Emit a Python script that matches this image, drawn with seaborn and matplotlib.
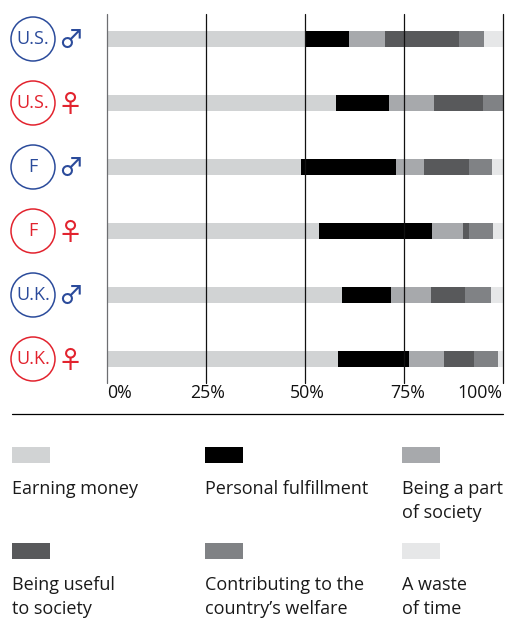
import matplotlib
matplotlib.use('Agg')
import matplotlib.pyplot as plt
from matplotlib.patches import Circle, Rectangle
import pandas as pd
import seaborn as sns

sns.set_theme(style="white")
plt.rcParams['font.family'] = ['Open Sans', 'DejaVu Sans']

groups = ['U.S. m', 'U.S. f', 'F m', 'F f', 'U.K. m', 'U.K. f']
group_labels = ['U.S.', 'U.S.', 'F', 'F', 'U.K.', 'U.K.']
group_signs = ['♂', '♀', '♂', '♀', '♂', '♀']

earning = [50.0, 57.8, 49.0, 53.5, 59.3, 58.3]
personal = [11.1, 13.4, 23.9, 28.5, 12.4, 17.9]
part = [9.1, 11.3, 7.1, 7.8, 10.1, 8.8]
useful = [18.6, 12.4, 11.3, 1.5, 8.5, 7.6]
welfare = [6.3, 5.1, 5.8, 6.1, 6.6, 6.1]
waste = [4.9, 0.0, 2.9, 2.6, 3.1, 1.3]

names = ['Earning money', 'Personal fulfillment', 'Being a part\nof society',
         'Being useful\nto society', 'Contributing to the\ncountry’s welfare', 'A waste\nof time']
colors = ['#d1d3d4', '#000000', '#a7a9ac', '#58595b', '#808285', '#e6e7e8']
ticks = [0, 25, 50, 75, 100]

df = pd.DataFrame({'group': groups, 'Earning': earning, 'Personal': personal, 'Part': part,
                   'Useful': useful, 'Welfare': welfare, 'Waste': waste})
cols = ['Earning', 'Personal', 'Part', 'Useful', 'Welfare', 'Waste']
cum = df[cols].cumsum(axis=1)

W, H = 517, 618
fig = plt.figure(figsize=(W / 100, H / 100), dpi=100)
ax = fig.add_axes([107 / W, 1 - 383 / H, (503.3 - 107) / W, (383 - 14) / H])

# stacked by drawing the longest bar first
for col, c in list(zip(cols, colors))[::-1]:
    sns.barplot(x=cum[col].values, y=df['group'], color=c, width=16 / 64, saturation=1,
                orient='h', ax=ax, linewidth=0, zorder=3)

ax.set_xlim(0, 100)
ax.set_ylim((383 - 39) / 64, -(39 - 14) / 64)
ax.set_xticks(ticks)
ax.set_xticklabels([])
ax.set_yticks([])
ax.set_xlabel('')
ax.set_ylabel('')
ax.tick_params(length=0)
for s in ax.spines.values():
    s.set_visible(False)
for t in ticks:
    ax.axvline(t, color='#6d6e71' if t == 0 else '#111111', lw=0.9, zorder=5, clip_on=False)

# overlay in pixel coordinates for labels and legend
ov = fig.add_axes([0, 0, 1, 1], facecolor='none')
ov.set_xlim(0, W)
ov.set_ylim(H, 0)
ov.axis('off')

label_x = [120, 208, 307, 408, 480]
for t, x in zip(ticks, label_x):
    ov.text(x, 393, f'{t}%', ha='center', va='center', fontsize=12.8, color='#111111')
ov.plot([12, 503], [414, 414], color='black', lw=0.9)

for i, (lab, sign) in enumerate(zip(group_labels, group_signs)):
    y = 39 + 64 * i
    c = '#2b4b9b' if sign == '♂' else '#e2232e'
    ov.add_patch(Circle((33, y), 22, fc='white', ec=c, lw=1.1))
    ov.text(33, y - 0.5, lab, ha='center', va='center', fontsize=13, color=c)
    ov.text(71 if sign == '♂' else 70, y + 2, sign, ha='center', va='center', fontsize=18,
            color=c, family='Noto Sans CJK JP', weight='medium')

col_x = [12, 205, 402]
for i, (name, c) in enumerate(zip(names, colors)):
    x = col_x[i % 3]
    top = 447 if i < 3 else 543
    ov.add_patch(Rectangle((x, top), 38, 16, fc=c, ec='none'))
    ov.text(x, top + 33, name, ha='left', va='top', fontsize=13, color='#1a1a1a', linespacing=1.44)

fig.savefig('out.png', dpi=100)
